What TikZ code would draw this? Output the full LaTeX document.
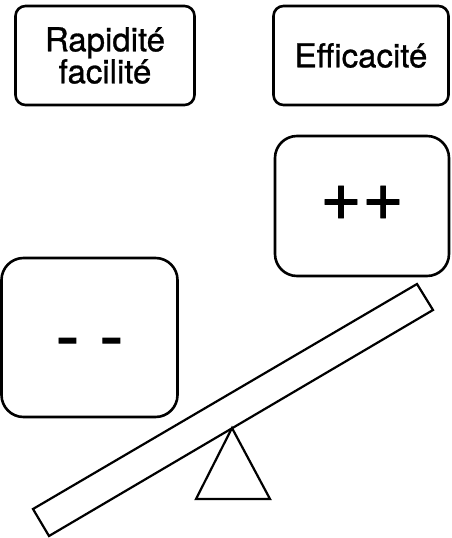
\documentclass[tikz,border=0pt]{standalone}
\usepackage{fontspec}
\setmainfont{TeX Gyre Heros}[FakeBold=0.9]
\begin{document}
\begin{tikzpicture}[x=1pt,y=-1pt,
    boite/.style={draw,line width=2.6pt,rounded corners=10pt,align=center,inner sep=0pt,font=\fontsize{33}{32}\selectfont},
    grande/.style={boite,rounded corners=22pt,font=\fontsize{72}{72}\selectfont}]
    \useasboundingbox (0,0) rectangle (452,538);
    \node[boite,minimum width=179,minimum height=99] (rapidite) at (105,55.5) {Rapidité\\facilité}; %Boite haut gauche
    \node[boite,minimum width=175,minimum height=99] (efficacite) at (361,55.5) {Efficacité}; %Boite haut droite
    \node[grande,minimum width=174,minimum height=140] (plus) at (362,206) {\raisebox{-14pt}[0pt][0pt]{++}}; %Boite plus
    \node[grande,minimum width=176,minimum height=159] (moins) at (89.5,337.5) {\raisebox{-23pt}[0pt][0pt]{- -}}; %Boite moins
    \draw[line width=2.2pt] (33,509) -- (417,284) -- (433,310) -- (49,536) -- cycle; %Planche
    \draw[line width=2.2pt] (232,428) -- (270,499) -- (196,499) -- cycle; %Pivot
\end{tikzpicture}
\end{document}
